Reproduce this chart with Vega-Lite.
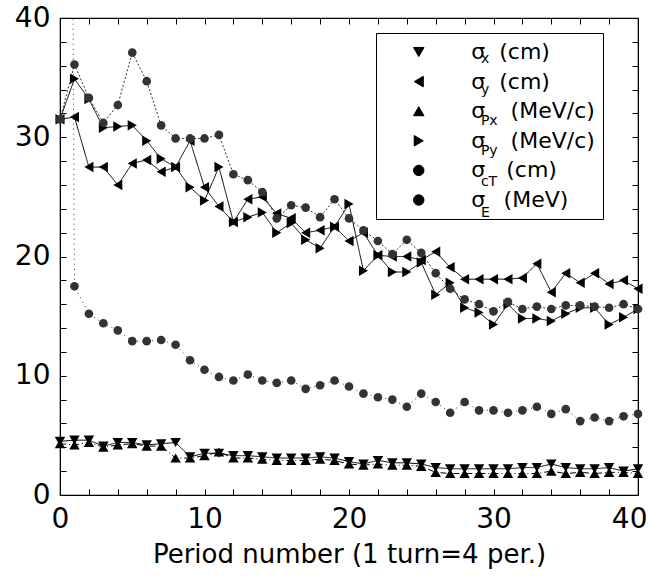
{
  "$schema": "https://vega.github.io/schema/vega-lite/v6.json",
  "width": 578,
  "height": 477,
  "autosize": {"type": "none"},
  "padding": {"left": 60, "top": 18, "right": 11, "bottom": 81},
  "background": "white",
  "config": {
    "view": {"stroke": "black", "strokeWidth": 1.2},
    "axis": {"domainColor": "black", "tickColor": "black", "labelColor": "black", "titleColor": "black", "labelFont": "DejaVu Sans", "titleFont": "DejaVu Sans", "titleFontWeight": "normal", "grid": false, "labelFlush": false, "labelOverlap": false}
  },
  "data": {"values": [
    {"s":"sx","x":0,"v":4.5},{"s":"sx","x":1,"v":4.6},{"s":"sx","x":2,"v":4.6},{"s":"sx","x":3,"v":4.1},{"s":"sx","x":4,"v":4.4},{"s":"sx","x":5,"v":4.4},{"s":"sx","x":6,"v":4.2},{"s":"sx","x":7,"v":4.3},{"s":"sx","x":8,"v":4.4},{"s":"sx","x":9,"v":3.2},{"s":"sx","x":10,"v":3.5},{"s":"sx","x":11,"v":3.5},{"s":"sx","x":12,"v":3.3},{"s":"sx","x":13,"v":3.3},{"s":"sx","x":14,"v":3.2},{"s":"sx","x":15,"v":3.1},{"s":"sx","x":16,"v":3.1},{"s":"sx","x":17,"v":3.1},{"s":"sx","x":18,"v":3.2},{"s":"sx","x":19,"v":3.1},{"s":"sx","x":20,"v":2.8},{"s":"sx","x":21,"v":2.6},{"s":"sx","x":22,"v":2.9},{"s":"sx","x":23,"v":2.7},{"s":"sx","x":24,"v":2.7},{"s":"sx","x":25,"v":2.6},{"s":"sx","x":26,"v":2.3},{"s":"sx","x":27,"v":2.2},{"s":"sx","x":28,"v":2.2},{"s":"sx","x":29,"v":2.2},{"s":"sx","x":30,"v":2.2},{"s":"sx","x":31,"v":2.2},{"s":"sx","x":32,"v":2.3},{"s":"sx","x":33,"v":2.3},{"s":"sx","x":34,"v":2.6},{"s":"sx","x":35,"v":2.3},{"s":"sx","x":36,"v":2.2},{"s":"sx","x":37,"v":2.2},{"s":"sx","x":38,"v":2.3},{"s":"sx","x":39,"v":2.0},{"s":"sx","x":40,"v":2.2},
    {"s":"sPx","x":0,"v":4.3},{"s":"sPx","x":1,"v":4.2},{"s":"sPx","x":2,"v":4.4},{"s":"sPx","x":3,"v":4.0},{"s":"sPx","x":4,"v":4.2},{"s":"sPx","x":5,"v":4.3},{"s":"sPx","x":6,"v":4.1},{"s":"sPx","x":7,"v":4.1},{"s":"sPx","x":8,"v":3.1},{"s":"sPx","x":9,"v":3.1},{"s":"sPx","x":10,"v":3.3},{"s":"sPx","x":11,"v":3.6},{"s":"sPx","x":12,"v":3.1},{"s":"sPx","x":13,"v":3.1},{"s":"sPx","x":14,"v":3.0},{"s":"sPx","x":15,"v":2.9},{"s":"sPx","x":16,"v":2.9},{"s":"sPx","x":17,"v":2.9},{"s":"sPx","x":18,"v":3.0},{"s":"sPx","x":19,"v":2.9},{"s":"sPx","x":20,"v":2.6},{"s":"sPx","x":21,"v":2.5},{"s":"sPx","x":22,"v":2.6},{"s":"sPx","x":23,"v":2.5},{"s":"sPx","x":24,"v":2.5},{"s":"sPx","x":25,"v":2.4},{"s":"sPx","x":26,"v":1.9},{"s":"sPx","x":27,"v":1.8},{"s":"sPx","x":28,"v":1.8},{"s":"sPx","x":29,"v":1.8},{"s":"sPx","x":30,"v":1.8},{"s":"sPx","x":31,"v":1.8},{"s":"sPx","x":32,"v":1.8},{"s":"sPx","x":33,"v":1.8},{"s":"sPx","x":34,"v":2.0},{"s":"sPx","x":35,"v":1.8},{"s":"sPx","x":36,"v":1.9},{"s":"sPx","x":37,"v":1.8},{"s":"sPx","x":38,"v":1.9},{"s":"sPx","x":39,"v":1.9},{"s":"sPx","x":40,"v":1.8},
    {"s":"sy","x":0,"v":31.5},{"s":"sy","x":1,"v":31.7},{"s":"sy","x":2,"v":27.5},{"s":"sy","x":3,"v":27.5},{"s":"sy","x":4,"v":26.0},{"s":"sy","x":5,"v":27.8},{"s":"sy","x":6,"v":28.1},{"s":"sy","x":7,"v":27.1},{"s":"sy","x":8,"v":27.5},{"s":"sy","x":9,"v":29.7},{"s":"sy","x":10,"v":25.8},{"s":"sy","x":11,"v":24.2},{"s":"sy","x":12,"v":22.9},{"s":"sy","x":13,"v":24.8},{"s":"sy","x":14,"v":25.0},{"s":"sy","x":15,"v":23.6},{"s":"sy","x":16,"v":23.2},{"s":"sy","x":17,"v":22.0},{"s":"sy","x":18,"v":22.2},{"s":"sy","x":19,"v":22.5},{"s":"sy","x":20,"v":21.3},{"s":"sy","x":21,"v":22.0},{"s":"sy","x":22,"v":20.1},{"s":"sy","x":23,"v":20.0},{"s":"sy","x":24,"v":20.0},{"s":"sy","x":25,"v":19.7},{"s":"sy","x":26,"v":20.4},{"s":"sy","x":27,"v":19.1},{"s":"sy","x":28,"v":18.1},{"s":"sy","x":29,"v":18.1},{"s":"sy","x":30,"v":18.1},{"s":"sy","x":31,"v":18.1},{"s":"sy","x":32,"v":18.2},{"s":"sy","x":33,"v":19.4},{"s":"sy","x":34,"v":17.0},{"s":"sy","x":35,"v":18.6},{"s":"sy","x":36,"v":17.8},{"s":"sy","x":37,"v":18.6},{"s":"sy","x":38,"v":17.7},{"s":"sy","x":39,"v":18.0},{"s":"sy","x":40,"v":17.3},
    {"s":"sPy","x":0,"v":31.5},{"s":"sPy","x":1,"v":34.9},{"s":"sPy","x":2,"v":33.2},{"s":"sPy","x":3,"v":30.8},{"s":"sPy","x":4,"v":30.9},{"s":"sPy","x":5,"v":31.0},{"s":"sPy","x":6,"v":29.7},{"s":"sPy","x":7,"v":28.2},{"s":"sPy","x":8,"v":27.5},{"s":"sPy","x":9,"v":25.8},{"s":"sPy","x":10,"v":24.7},{"s":"sPy","x":11,"v":27.5},{"s":"sPy","x":12,"v":22.9},{"s":"sPy","x":13,"v":23.3},{"s":"sPy","x":14,"v":23.7},{"s":"sPy","x":15,"v":22.0},{"s":"sPy","x":16,"v":22.8},{"s":"sPy","x":17,"v":21.4},{"s":"sPy","x":18,"v":20.7},{"s":"sPy","x":19,"v":22.5},{"s":"sPy","x":20,"v":24.4},{"s":"sPy","x":21,"v":18.8},{"s":"sPy","x":22,"v":20.1},{"s":"sPy","x":23,"v":18.7},{"s":"sPy","x":24,"v":18.7},{"s":"sPy","x":25,"v":19.5},{"s":"sPy","x":26,"v":16.8},{"s":"sPy","x":27,"v":17.8},{"s":"sPy","x":28,"v":15.7},{"s":"sPy","x":29,"v":15.3},{"s":"sPy","x":30,"v":14.3},{"s":"sPy","x":31,"v":16.0},{"s":"sPy","x":32,"v":14.8},{"s":"sPy","x":33,"v":14.8},{"s":"sPy","x":34,"v":14.6},{"s":"sPy","x":35,"v":15.2},{"s":"sPy","x":36,"v":15.7},{"s":"sPy","x":37,"v":15.7},{"s":"sPy","x":38,"v":14.3},{"s":"sPy","x":39,"v":14.9},{"s":"sPy","x":40,"v":15.6},
    {"s":"scT","x":0,"v":31.5},{"s":"scT","x":1,"v":36.1},{"s":"scT","x":2,"v":33.3},{"s":"scT","x":3,"v":31.2},{"s":"scT","x":4,"v":32.7},{"s":"scT","x":5,"v":37.1},{"s":"scT","x":6,"v":34.7},{"s":"scT","x":7,"v":31.0},{"s":"scT","x":8,"v":29.9},{"s":"scT","x":9,"v":29.9},{"s":"scT","x":10,"v":29.9},{"s":"scT","x":11,"v":30.2},{"s":"scT","x":12,"v":26.9},{"s":"scT","x":13,"v":26.4},{"s":"scT","x":14,"v":25.4},{"s":"scT","x":15,"v":23.2},{"s":"scT","x":16,"v":24.3},{"s":"scT","x":17,"v":24.1},{"s":"scT","x":18,"v":23.3},{"s":"scT","x":19,"v":24.8},{"s":"scT","x":20,"v":23.2},{"s":"scT","x":21,"v":22.2},{"s":"scT","x":22,"v":21.3},{"s":"scT","x":23,"v":20.2},{"s":"scT","x":24,"v":21.4},{"s":"scT","x":25,"v":20.3},{"s":"scT","x":26,"v":18.6},{"s":"scT","x":27,"v":17.3},{"s":"scT","x":28,"v":16.4},{"s":"scT","x":29,"v":16.0},{"s":"scT","x":30,"v":15.4},{"s":"scT","x":31,"v":16.2},{"s":"scT","x":32,"v":15.6},{"s":"scT","x":33,"v":15.8},{"s":"scT","x":34,"v":15.6},{"s":"scT","x":35,"v":15.9},{"s":"scT","x":36,"v":15.9},{"s":"scT","x":37,"v":15.8},{"s":"scT","x":38,"v":15.7},{"s":"scT","x":39,"v":16.0},{"s":"scT","x":40,"v":15.6},
    {"s":"sE","x":0,"v":250},{"s":"sE","x":1,"v":17.5},{"s":"sE","x":2,"v":15.2},{"s":"sE","x":3,"v":14.4},{"s":"sE","x":4,"v":13.8},{"s":"sE","x":5,"v":12.9},{"s":"sE","x":6,"v":12.9},{"s":"sE","x":7,"v":13.0},{"s":"sE","x":8,"v":12.6},{"s":"sE","x":9,"v":11.3},{"s":"sE","x":10,"v":10.5},{"s":"sE","x":11,"v":9.9},{"s":"sE","x":12,"v":9.6},{"s":"sE","x":13,"v":10.1},{"s":"sE","x":14,"v":9.6},{"s":"sE","x":15,"v":9.4},{"s":"sE","x":16,"v":9.6},{"s":"sE","x":17,"v":8.9},{"s":"sE","x":18,"v":9.2},{"s":"sE","x":19,"v":9.6},{"s":"sE","x":20,"v":9.1},{"s":"sE","x":21,"v":8.5},{"s":"sE","x":22,"v":8.2},{"s":"sE","x":23,"v":8.0},{"s":"sE","x":24,"v":7.4},{"s":"sE","x":25,"v":8.5},{"s":"sE","x":26,"v":7.8},{"s":"sE","x":27,"v":6.9},{"s":"sE","x":28,"v":7.8},{"s":"sE","x":29,"v":7.1},{"s":"sE","x":30,"v":7.1},{"s":"sE","x":31,"v":6.9},{"s":"sE","x":32,"v":7.1},{"s":"sE","x":33,"v":7.4},{"s":"sE","x":34,"v":6.8},{"s":"sE","x":35,"v":7.2},{"s":"sE","x":36,"v":6.2},{"s":"sE","x":37,"v":6.5},{"s":"sE","x":38,"v":6.2},{"s":"sE","x":39,"v":6.6},{"s":"sE","x":40,"v":6.8}
  ]},
  "transform": [
    {"lookup": "s", "from": {"data": {"values": [
      {"s":"sx","sub":"x","g":"tri"},{"s":"sy","sub":"y","g":"tri"},{"s":"sPx","sub":"Px","g":"tri"},{"s":"sPy","sub":"Py","g":"tri"},{"s":"scT","sub":"cT","g":"circ"},{"s":"sE","sub":"E","g":"circ"}
    ]}, "key": "s", "fields": ["sub", "g"]}}
  ],
  "resolve": {"axis": {"x": "independent", "y": "independent"}},
  "layer": [
    {
      "mark": {"type": "line", "clip": true, "strokeWidth": 1},
      "encoding": {
        "x": {"field": "x", "type": "quantitative", "scale": {"domain": [0, 40], "nice": false, "zero": false},
          "axis": {"orient": "bottom", "values": [0,2,4,6,8,10,12,14,16,18,20,22,24,26,28,30,32,34,36,38,40], "labelExpr": "datum.value % 10 === 0 ? datum.label : ''", "tickSize": -6, "labelPadding": 16, "labelFontSize": 28, "labelFlush": true, "labelFlushOffset": 9, "title": "Period number (1 turn=4 per.)", "titleFontSize": 26, "titlePadding": 8}},
        "y": {"field": "v", "type": "quantitative", "scale": {"domain": [0, 40], "nice": false, "zero": false},
          "axis": {"orient": "left", "values": [0,2,4,6,8,10,12,14,16,18,20,22,24,26,28,30,32,34,36,38,40], "labelExpr": "datum.value % 10 === 0 ? datum.label : ''", "tickSize": -6, "labelPadding": 16, "labelFontSize": 28, "title": null}},
        "detail": {"field": "s"},
        "color": {"field": "g", "type": "nominal", "legend": null,
          "scale": {"domain": ["tri", "circ"], "range": ["#000000", "#333333"]}},
        "strokeDash": {"field": "sub", "type": "nominal",
          "scale": {"domain": ["x","y","Px","Py","cT","E"], "range": [[1,0],[1,0],[6,3,1,3],[1,0],[2,2],[1,4]]},
          "legend": {"orient": "none", "legendX": 316, "legendY": 25.5, "title": null, "padding": 8, "strokeColor": null, "fillColor": null,
            "labelFont": "DejaVu Sans", "labelFontSize": 14, "labelColor": "black", "symbolOpacity": 0, "symbolType": "circle", "symbolSize": 180, "symbolOffset": 22.3, "labelOffset": 59.6, "rowPadding": 15.8, "zindex": 2}}
      }
    },
    {
      "mark": {"type": "point", "filled": true, "opacity": 1},
      "encoding": {
        "x": {"field": "x", "type": "quantitative", "axis": {"orient": "top", "values": [0,2,4,6,8,10,12,14,16,18,20,22,24,26,28,30,32,34,36,38,40], "labels": false, "tickSize": -6, "title": null}},
        "y": {"field": "v", "type": "quantitative", "axis": {"orient": "right", "values": [0,2,4,6,8,10,12,14,16,18,20,22,24,26,28,30,32,34,36,38,40], "labels": false, "tickSize": -6, "title": null}},
        "color": {"field": "g", "type": "nominal", "legend": null},
        "size": {"field": "g", "type": "nominal", "legend": null,
          "scale": {"domain": ["tri", "circ"], "range": [110, 75]}},
        "shape": {"field": "s", "type": "nominal",
          "scale": {"domain": ["sx","sy","sPx","sPy","scT","sE"], "range": ["triangle-down","triangle-left","triangle-up","triangle-right","circle","circle"]},
          "legend": {"orient": "none", "legendX": 316, "legendY": 15, "title": null, "padding": 8, "strokeColor": "black", "fillColor": "white", "zindex": 1,
            "labelExpr": "datum.label==='sx'?'σ\u00a0\u00a0(cm)':datum.label==='sy'?'σ\u00a0\u00a0(cm)':datum.label==='sPx'?'σ\u00a0\u00a0\u00a0\u2009(MeV/c)\u00a0\u00a0':datum.label==='sPy'?'σ\u00a0\u00a0\u00a0\u2009(MeV/c)\u00a0\u00a0':datum.label==='scT'?'σ\u00a0\u00a0\u00a0(cm)':'σ\u00a0\u00a0\u2009(MeV)'",
            "labelFont": "DejaVu Sans", "labelFontSize": 22, "labelColor": "black", "symbolSize": 110, "symbolOffset": 23.75, "labelOffset": 41.55, "rowPadding": 7.6,
            "symbolFillColor": "black", "symbolStrokeColor": "black", "symbolStrokeWidth": 1,
            "encode": {"legend": {"strokeWidth": {"value": 1.5}}}}}
      }
    }
  ]
}
